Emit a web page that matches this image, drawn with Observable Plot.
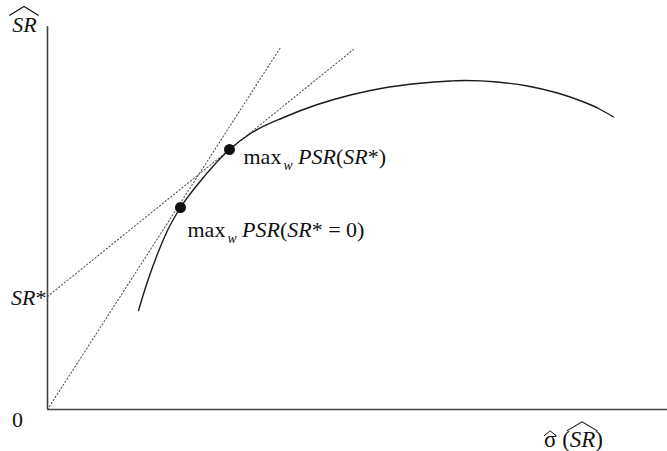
<!DOCTYPE html>
<html>
<head>
<meta charset="utf-8">
<script src="https://cdn.jsdelivr.net/npm/d3@7"></script>
<script src="https://cdn.jsdelivr.net/npm/@observablehq/plot@0.6"></script>
<style>
  html, body { margin: 0; padding: 0; background: #fff; }
  #chart svg { display: block; }
</style>
</head>
<body>
<div id="chart"></div>
<script>
// Efficient frontier of estimated Sharpe ratio against its estimated standard deviation
const frontierX = [91, 99, 109, 120, 133, 151, 182, 203, 236, 270, 303, 336, 370, 403, 418, 450, 480, 510, 535, 552, 566];
const frontierY = [99, 125, 153, 179, 202, 226, 260, 276, 292, 305, 314.5, 321.5, 326, 328.5, 329, 327.5, 323.5, 316.5, 308, 300.5, 292.5];

// Tangent through the origin (SR* = 0) and tangent through SR*
const tangentZeroX = [0, 233];
const tangentZeroY = [0, 362];
const tangentStarX = [0, 306];
const tangentStarY = [113, 360];

// Tangency points and their labels
const optimaX = [133, 182];
const optimaY = [202, 260];
const optimaLabels = ["max_w PSR(SR* = 0)", "max_w PSR(SR*)"];
const labelDx = [7, 14];
const labelDy = [22, 7];

// Axis annotations
const srStar = 113;
const yTitle = "^{SR}";
const xTitle = "^{σ} (^{SR})";

const FONT = 22;

const pts = optimaX.map((x, i) => ({x, y: optimaY[i], label: optimaLabels[i], dx: labelDx[i], dy: labelDy[i]}));

const chart = Plot.plot({
  width: 667,
  height: 451,
  marginLeft: 47,
  marginRight: 0,
  marginTop: 26,
  marginBottom: 42,
  x: {domain: [0, 620], axis: null},
  y: {domain: [0, 383], axis: null},
  style: {fontFamily: "'Liberation Serif', 'Times New Roman', serif", background: "#fff", overflow: "visible"},
  marks: [
    Plot.line(tangentZeroX.map((x, i) => ({x, y: tangentZeroY[i]})), {x: "x", y: "y", stroke: "#555", strokeWidth: 1.1, strokeDasharray: "1.2,2.4"}),
    Plot.line(tangentStarX.map((x, i) => ({x, y: tangentStarY[i]})), {x: "x", y: "y", stroke: "#555", strokeWidth: 1.1, strokeDasharray: "1.2,2.4"}),
    Plot.line(frontierX.map((x, i) => ({x, y: frontierY[i]})), {x: "x", y: "y", curve: "monotone-x", stroke: "#1a1a1a", strokeWidth: 1.4}),
    Plot.ruleX([0], {stroke: "#444", strokeWidth: 1.6}),
    Plot.ruleY([0], {stroke: "#444", strokeWidth: 1.6}),
    Plot.dot(pts, {x: "x", y: "y", r: 5.5, fill: "#111", stroke: null}),
    ...pts.map(p => Plot.text([p], {x: "x", y: "y", text: "label", dx: p.dx, dy: p.dy, textAnchor: "start", lineAnchor: "middle", fontSize: FONT, fill: "#111", className: "rich"})),
    Plot.text([{x: 0, y: 383, t: yTitle}], {x: "x", y: "y", text: "t", dx: -23, dy: 5, textAnchor: "middle", lineAnchor: "bottom", fontSize: FONT, fill: "#111", className: "rich"}),
    Plot.text([{x: 0, y: srStar, t: "SR*"}], {x: "x", y: "y", text: "t", dx: -1, dy: 1, textAnchor: "end", lineAnchor: "middle", fontSize: FONT, fill: "#111", className: "rich"}),
    Plot.text([{x: 0, y: 0, t: "0"}], {x: "x", y: "y", text: "t", dx: -30, dy: 10, textAnchor: "middle", lineAnchor: "middle", fontSize: FONT, fill: "#111"}),
    Plot.text([{x: 526, y: 0, t: xTitle}], {x: "x", y: "y", text: "t", dx: 0, dy: 30, textAnchor: "middle", lineAnchor: "middle", fontSize: 23, fill: "#111", className: "rich"})
  ]
});

document.getElementById("chart").appendChild(chart);

// Turn light markup into styled tspans: capitals italic, _x subscript, ^{..} hat
const SVGNS = "http://www.w3.org/2000/svg";
function richify(textEl) {
  const s = textEl.textContent;
  while (textEl.firstChild) textEl.removeChild(textEl.firstChild);
  const hats = [];
  let pendingDy = 0;
  const add = (str, italic, sub) => {
    const t = document.createElementNS(SVGNS, "tspan");
    t.textContent = str;
    if (italic) t.setAttribute("font-style", "italic");
    let dy = pendingDy;
    if (sub) { t.setAttribute("font-size", FONT * 0.62); dy += FONT * 0.28; pendingDy = -FONT * 0.28; t.setAttribute("dx", 2); }
    else pendingDy = 0;
    if (dy) t.setAttribute("dy", dy);
    textEl.appendChild(t);
    return t;
  };
  const isItal = c => /[A-Zσ]/.test(c);
  let i = 0;
  while (i < s.length) {
    if (s[i] === "^" && s[i + 1] === "{") {
      const j = s.indexOf("}", i);
      const inner = s.slice(i + 2, j);
      hats.push({el: add(inner, inner !== "σ", false), small: inner === "σ"});
      i = j + 1;
      continue;
    }
    if (s[i] === "_") { add(s[i + 1], true, true); i += 2; continue; }
    const ital = isItal(s[i]);
    let j = i;
    while (j < s.length && s[j] !== "^" && s[j] !== "_" && isItal(s[j]) === ital) j++;
    add(s.slice(i, j), ital, false);
    i = j;
  }
  for (const h of hats) {
    const n = h.el.textContent.length;
    const first = h.el.getExtentOfChar(0);
    const last = h.el.getExtentOfChar(n - 1);
    const x0 = first.x - (h.small ? 0 : 3), x1 = last.x + last.width + (h.small ? 0 : 2);
    const top = first.y + first.height * (h.small ? 0.36 : 0.16);
    const rise = h.small ? 5 : 9;
    const p = document.createElementNS(SVGNS, "path");
    p.setAttribute("d", `M${x0},${top} L${(x0 + x1) / 2},${top - rise} L${x1},${top}`);
    p.setAttribute("fill", "none");
    p.setAttribute("stroke", "#111");
    p.setAttribute("stroke-width", h.small ? 1 : 1.1);
    const tr = textEl.getAttribute("transform");
    if (tr) p.setAttribute("transform", tr);
    textEl.parentNode.appendChild(p);
  }
}
chart.querySelectorAll(".rich text").forEach(richify);
</script>
</body>
</html>
